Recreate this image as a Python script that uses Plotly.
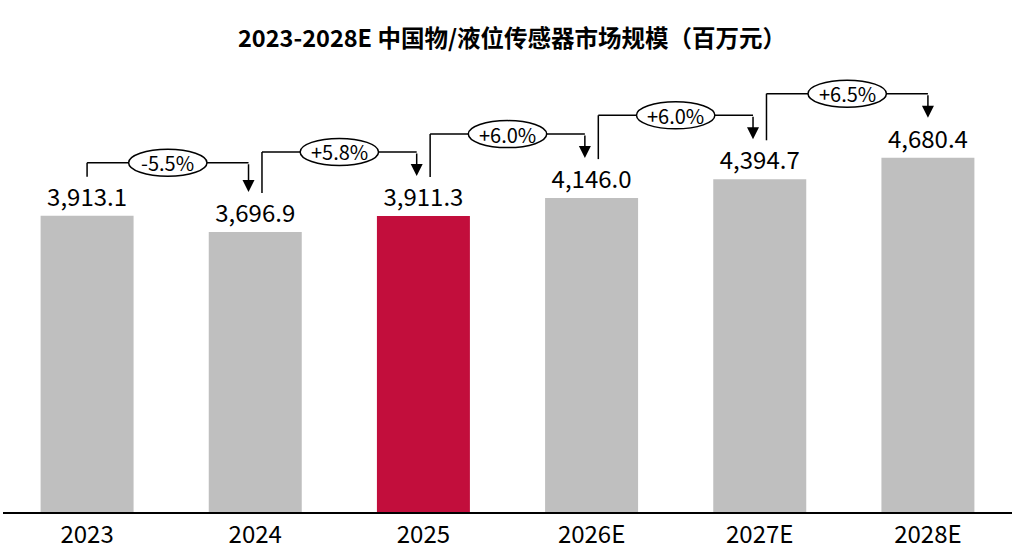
import plotly.graph_objects as go

categories = ["2023", "2024", "2025", "2026E", "2027E", "2028E"]
values = [3913.1, 3696.9, 3911.3, 4146.0, 4394.7, 4680.4]
growth_labels = ["-5.5%", "+5.8%", "+6.0%", "+6.0%", "+6.5%"]
title_text = "2023-2028E 中国物/液位传感器市场规模（百万元）"

GRAY = "#BFBFBF"
RED = "#C20E3C"
FONT = "Noto Sans CJK SC"
colors = [GRAY, GRAY, RED, GRAY, GRAY, GRAY]

# pixel-to-data helpers (plot height 469 px over range 0..Y_MAX)
PLOT_H = 469
Y_MAX = 6195
PX = Y_MAX / PLOT_H  # data units per pixel

fig = go.Figure()
fig.add_trace(go.Bar(
    x=categories, y=values,
    marker=dict(color=colors, line=dict(width=0)),
    width=0.553,
    texttemplate="%{y:,.1f}",
    textposition="outside",
    textfont=dict(family=FONT, size=24, color="#000000"),
    cliponaxis=False,
    hoverinfo="skip",
))

left_off = [0.0, 0.04, 0.04, 0.04, 0.04]
right_off = [-0.04, -0.04, -0.04, -0.04, 0.0]
shapes = []
annotations = []
for i, lab in enumerate(growth_labels):
    xl = i + left_off[i]
    xr = i + 1 + right_off[i]
    yl = values[i] + 39 * PX
    yt = values[i + 1] + 40 * PX
    yh = max(yt + 24 * PX, yl + 14 * PX)
    shapes.append(dict(type="line", xref="x", yref="y", x0=xl, x1=xl, y0=yl, y1=yh,
                       line=dict(color="black", width=1.5)))
    shapes.append(dict(type="line", xref="x", yref="y", x0=xl, x1=xr, y0=yh, y1=yh,
                       line=dict(color="black", width=1.5)))
    xm = (xl + xr) / 2
    shapes.append(dict(type="circle", xref="x", yref="y",
                       x0=xm - 0.233, x1=xm + 0.233, y0=yh - 13.5 * PX, y1=yh + 13.5 * PX,
                       fillcolor="white", line=dict(color="black", width=1.5)))
    annotations.append(dict(x=xm, y=yh, xref="x", yref="y", text=lab, showarrow=False,
                            font=dict(family=FONT, size=20, color="black"),
                            xanchor="center", yanchor="middle"))
    annotations.append(dict(x=xr, y=yt, xref="x", yref="y", ax=xr, ay=yh,
                            axref="x", ayref="y", text="", showarrow=True,
                            arrowhead=2, arrowsize=1.6, arrowwidth=1.5,
                            arrowcolor="black", standoff=0))

fig.update_layout(
    width=1024, height=555,
    margin=dict(l=3, r=12, t=43, b=43),
    paper_bgcolor="white", plot_bgcolor="white",
    showlegend=False,
    title=dict(text="<b>" + title_text + "</b>", x=0.5, xanchor="center",
               yref="container", y=1 - 39 / 555, yanchor="middle",
               font=dict(family=FONT, size=23.5, color="black")),
    xaxis=dict(type="category", range=[-0.5, 5.5], showline=True, linecolor="black",
               linewidth=1.5, ticks="", showgrid=False, zeroline=False,
               tickfont=dict(family=FONT, size=24, color="black")),
    yaxis=dict(range=[0, Y_MAX], visible=False, showgrid=False, zeroline=False),
    shapes=shapes,
    annotations=annotations,
    font=dict(family=FONT),
)

fig.write_html("out.html", config={"displayModeBar": False},
               post_script="document.body.style.margin='0';")
